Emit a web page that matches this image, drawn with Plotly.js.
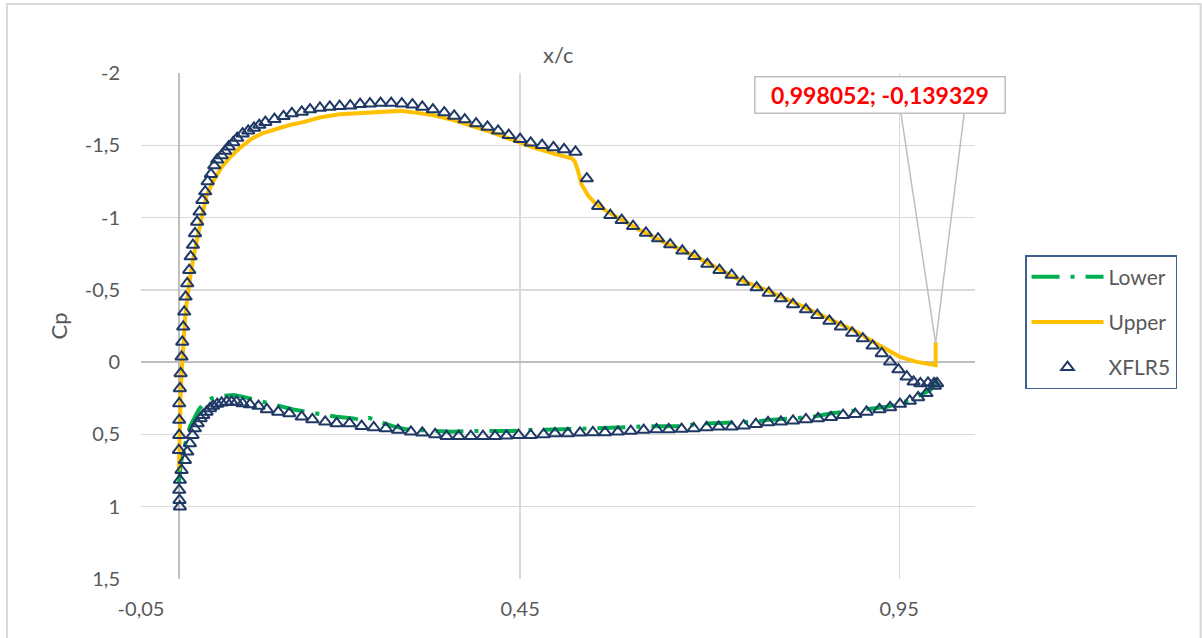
<!DOCTYPE html>
<html>
<head>
<meta charset="utf-8">
<script src="https://cdn.plot.ly/plotly-3.0.1.min.js"></script>
<style>html,body{margin:0;padding:0;background:#fff;}#chart{width:1202px;height:638px;}</style>
</head>
<body>
<div id="chart"></div>
<script>
// ---- Upper surface (CFD) ----
const upperX = [0.0, 0.0003, 0.0008, 0.0015, 0.0025, 0.0035, 0.0045, 0.006, 0.008, 0.010, 0.0125, 0.0155, 0.019, 0.0234, 0.027, 0.030, 0.0365, 0.045, 0.056, 0.067, 0.080, 0.096, 0.111, 0.129, 0.146, 0.164, 0.186, 0.212, 0.239, 0.265, 0.292, 0.305, 0.336, 0.362, 0.388, 0.415, 0.441, 0.467, 0.494, 0.505, 0.518, 0.522, 0.526, 0.531, 0.540, 0.547, 0.555, 0.577, 0.608, 0.643, 0.683, 0.731, 0.775, 0.819, 0.863, 0.894, 0.916, 0.934, 0.951, 0.973, 0.990, 0.998052, 0.998052];
const upperCp = [0.75, 0.62, 0.48, 0.34, 0.20, 0.08, -0.02, -0.15, -0.29, -0.40, -0.51, -0.61, -0.72, -0.82, -0.91, -1.00, -1.15, -1.25, -1.345, -1.415, -1.48, -1.545, -1.585, -1.615, -1.64, -1.66, -1.692, -1.715, -1.724, -1.731, -1.738, -1.731, -1.708, -1.674, -1.632, -1.586, -1.535, -1.485, -1.443, -1.43, -1.41, -1.39, -1.33, -1.23, -1.15, -1.11, -1.074, -1.005, -0.913, -0.821, -0.728, -0.59, -0.498, -0.394, -0.29, -0.21, -0.14, -0.083, -0.037, -0.002, 0.015, 0.021, -0.139329];

// ---- Lower surface (CFD) ----
const lowerX = [0.0, 0.0005, 0.002, 0.005, 0.010, 0.0145, 0.020, 0.026, 0.034, 0.043, 0.053, 0.063, 0.0726, 0.085, 0.098, 0.111, 0.131, 0.151, 0.170, 0.188, 0.208, 0.230, 0.241, 0.250, 0.259, 0.265, 0.282, 0.300, 0.336, 0.360, 0.379, 0.419, 0.439, 0.459, 0.498, 0.519, 0.540, 0.578, 0.599, 0.617, 0.657, 0.696, 0.736, 0.758, 0.775, 0.815, 0.837, 0.859, 0.894, 0.916, 0.934, 0.964, 0.991, 0.998052, 0.998052];
const lowerCp = [0.84, 0.80, 0.72, 0.63, 0.53, 0.447, 0.39, 0.33, 0.275, 0.25, 0.235, 0.228, 0.228, 0.24, 0.258, 0.275, 0.304, 0.327, 0.345, 0.362, 0.378, 0.389, 0.401, 0.385, 0.396, 0.413, 0.443, 0.465, 0.475, 0.482, 0.477, 0.477, 0.477, 0.470, 0.466, 0.466, 0.459, 0.452, 0.447, 0.443, 0.443, 0.424, 0.417, 0.413, 0.401, 0.385, 0.378, 0.355, 0.332, 0.320, 0.309, 0.263, 0.194, 0.15, 0.03];

// ---- XFLR5 upper surface ----
const xflrUpperX = [0.0013, 0.0008, 0.0004, 0.0000, 0.0004, 0.0004, 0.0004, 0.0013, 0.0022, 0.0035, 0.0044, 0.0057, 0.0070, 0.0088, 0.0110, 0.0136, 0.0155, 0.0185, 0.0212, 0.0240, 0.0272, 0.0309, 0.0347, 0.0379, 0.0422, 0.0466, 0.0505, 0.0563, 0.061, 0.0656, 0.0716, 0.0769, 0.084, 0.0914, 0.099, 0.106, 0.114, 0.126, 0.138, 0.149, 0.162, 0.173, 0.186, 0.199, 0.212, 0.226, 0.239, 0.252, 0.266, 0.280, 0.294, 0.308, 0.321, 0.335, 0.350, 0.363, 0.377, 0.392, 0.407, 0.421, 0.435, 0.450, 0.464, 0.479, 0.494, 0.508, 0.523, 0.538, 0.553, 0.569, 0.584, 0.599, 0.616, 0.632, 0.648, 0.664, 0.680, 0.697, 0.713, 0.729, 0.744, 0.762, 0.778, 0.794, 0.810, 0.827, 0.842, 0.858, 0.873, 0.888, 0.902, 0.915, 0.927, 0.938, 0.949, 0.960, 0.969, 0.978, 0.988, 0.996, 1.0];
const xflrUpperCp = [1.0, 0.955, 0.885, 0.609, 0.505, 0.401, 0.286, 0.182, 0.078, -0.037, -0.140, -0.244, -0.348, -0.452, -0.544, -0.636, -0.73, -0.81, -0.89, -0.97, -1.04, -1.12, -1.18, -1.25, -1.30, -1.36, -1.40, -1.43, -1.46, -1.49, -1.52, -1.55, -1.58, -1.60, -1.62, -1.64, -1.66, -1.68, -1.70, -1.72, -1.731, -1.747, -1.758, -1.765, -1.770, -1.774, -1.784, -1.788, -1.792, -1.792, -1.788, -1.781, -1.765, -1.747, -1.726, -1.703, -1.678, -1.650, -1.627, -1.600, -1.570, -1.542, -1.517, -1.501, -1.485, -1.471, -1.454, -1.27, -1.079, -1.016, -0.982, -0.940, -0.894, -0.855, -0.813, -0.770, -0.733, -0.678, -0.636, -0.602, -0.555, -0.516, -0.479, -0.440, -0.399, -0.364, -0.325, -0.285, -0.244, -0.202, -0.163, -0.113, -0.060, -0.002, 0.051, 0.101, 0.136, 0.147, 0.143, 0.147, 0.147];

// ---- XFLR5 lower surface ----
const xflrLowerX = [0.0013, 0.0035, 0.0079, 0.011, 0.0145, 0.018, 0.021, 0.0247, 0.0286, 0.032, 0.0365, 0.041, 0.045, 0.0505, 0.0563, 0.063, 0.0695, 0.076, 0.084, 0.0937, 0.105, 0.116, 0.131, 0.1455, 0.162, 0.176, 0.193, 0.208, 0.225, 0.241, 0.257, 0.273, 0.289, 0.306, 0.321, 0.338, 0.353, 0.369, 0.385, 0.401, 0.417, 0.432, 0.448, 0.464, 0.481, 0.496, 0.513, 0.529, 0.546, 0.562, 0.579, 0.596, 0.613, 0.630, 0.646, 0.663, 0.679, 0.696, 0.712, 0.729, 0.745, 0.761, 0.777, 0.794, 0.810, 0.827, 0.843, 0.860, 0.876, 0.892, 0.907, 0.924, 0.938, 0.951, 0.964, 0.975, 0.986, 0.997];
const xflrLowerCp = [0.816, 0.747, 0.678, 0.620, 0.562, 0.505, 0.459, 0.424, 0.389, 0.367, 0.344, 0.320, 0.304, 0.290, 0.281, 0.275, 0.275, 0.275, 0.286, 0.293, 0.304, 0.327, 0.344, 0.355, 0.378, 0.396, 0.413, 0.424, 0.424, 0.443, 0.452, 0.459, 0.470, 0.482, 0.489, 0.500, 0.512, 0.512, 0.512, 0.512, 0.512, 0.510, 0.505, 0.505, 0.500, 0.493, 0.493, 0.489, 0.486, 0.486, 0.482, 0.477, 0.470, 0.466, 0.466, 0.463, 0.459, 0.452, 0.447, 0.447, 0.440, 0.429, 0.417, 0.413, 0.406, 0.396, 0.389, 0.382, 0.367, 0.360, 0.344, 0.327, 0.313, 0.290, 0.268, 0.244, 0.216, 0.165];

// ---- Axis ticks ----
const xTickVals = [-0.05, 0.45, 0.95];
const xTickText = ['-0,05', '0,45', '0,95'];
const yTickVals = [-2, -1.5, -1, -0.5, 0, 0.5, 1, 1.5];
const yTickText = ['-2', '-1,5', '-1', '-0,5', '0', '0,5', '1', '1,5'];

// labelled point = the upper-surface trailing-edge spike
const labelX = upperX[upperX.length - 1];
const labelCp = upperCp[upperCp.length - 1];
const labelText = String(labelX).replace('.', ',') + '; ' + String(labelCp).replace('.', ',');

const FONT = 'Lato, "Open Sans", sans-serif';
const GREY = '#595959';

const traces = [
  {x: lowerX, y: lowerCp, name: 'Lower', mode: 'lines', legendgroup: 'a',
   line: {color: '#00B050', width: 4, dash: '28px,11px,4px,11px'}},
  {x: upperX, y: upperCp, name: 'Upper', mode: 'lines', legendgroup: 'b',
   line: {color: '#FFC000', width: 4}},
  {x: xflrUpperX.concat(xflrLowerX), y: xflrUpperCp.concat(xflrLowerCp), name: 'XFLR5', mode: 'markers', legendgroup: 'c',
   marker: {symbol: 'triangle-up-open', size: 11, color: '#1F3864', line: {width: 2, color: '#1F3864'}}}
];

const layout = {
  width: 1202, height: 638,
  margin: {l: 141, r: 227, t: 73, b: 59, pad: 0},
  paper_bgcolor: '#ffffff', plot_bgcolor: '#ffffff',
  font: {family: FONT, color: GREY, size: 20},
  showlegend: true,
  legend: {x: 1.06, y: 0.6403, xanchor: 'left', yanchor: 'top',
           bordercolor: '#3F5F8F', borderwidth: 1.5, bgcolor: '#ffffff',
           font: {family: FONT, size: 21, color: GREY},
           itemwidth: 72, tracegroupgap: 15, traceorder: 'grouped'},
  xaxis: {range: [-0.05, 1.05], tickmode: 'array', tickvals: xTickVals, ticktext: xTickText,
          showgrid: true, gridcolor: '#d9d9d9', gridwidth: 1.3,
          zeroline: true, zerolinecolor: '#bfbfbf', zerolinewidth: 1.5,
          showline: false, ticks: '', ticklabelstandoff: 16,
          tickfont: {family: FONT, size: 20, color: GREY}},
  yaxis: {range: [1.5, -2], tickmode: 'array', tickvals: yTickVals, ticktext: yTickText,
          showgrid: true, gridcolor: '#d9d9d9', gridwidth: 1.3,
          zeroline: true, zerolinecolor: '#bfbfbf', zerolinewidth: 1.5,
          showline: false, ticks: '', ticklabelstandoff: 20,
          tickfont: {family: FONT, size: 20, color: GREY},
          title: {text: 'Cp', font: {family: FONT, size: 22, color: GREY}, standoff: 11}},
  annotations: [
    {xref: 'paper', yref: 'paper', x: 0.5, y: 1, xanchor: 'center', yanchor: 'bottom', yshift: 3,
     text: 'x/c', showarrow: false, font: {family: FONT, size: 22, color: GREY}},
    {xref: 'x', yref: 'y', x: 0.9248, y: -1.846, xanchor: 'center', yanchor: 'middle',
     text: '<b>' + labelText + '</b>', showarrow: false,
     width: 249, height: 35, borderpad: 0, borderwidth: 1.5, bordercolor: '#bfbfbf', bgcolor: '#ffffff',
     font: {family: FONT, size: 23, color: '#FF0000'}}
  ],
  shapes: [
    {type: 'line', xref: 'x', yref: 'y', x0: 0.9525, y0: -1.715, x1: labelX, y1: labelCp + 0.008,
     line: {color: '#bfbfbf', width: 1.5}},
    {type: 'line', xref: 'x', yref: 'y', x0: 1.0356, y0: -1.715, x1: labelX, y1: labelCp + 0.008,
     line: {color: '#bfbfbf', width: 1.5}},
    {type: 'rect', xref: 'paper', yref: 'paper', x0: -0.1607, x1: 1.2706, y0: -0.14, y1: 1.1364,
     line: {color: '#d9d9d9', width: 2}, fillcolor: 'rgba(0,0,0,0)', layer: 'below'}
  ]
};

Plotly.newPlot('chart', traces, layout, {displayModeBar: false, staticPlot: true});
</script>
</body>
</html>
